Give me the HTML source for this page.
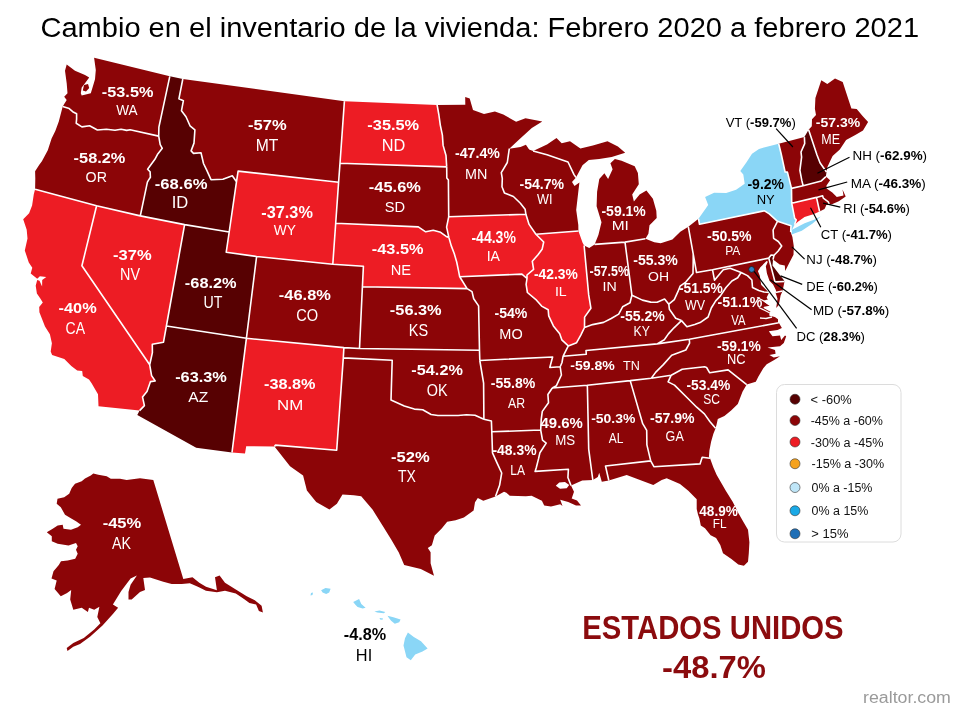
<!DOCTYPE html>
<html><head><meta charset="utf-8"><style>
html,body{margin:0;padding:0;background:#fff;}
body{width:960px;height:720px;overflow:hidden;position:relative;font-family:"Liberation Sans",sans-serif;}
svg{position:absolute;left:0;top:0;will-change:transform;}
svg text{font-family:"Liberation Sans",sans-serif;}
</style></head><body>
<svg width="960" height="720" viewBox="0 0 960 720">
<path fill="#8c0507" d="M169.8,76.3 L94.1,57.7 L95.8,70.0 L95.0,79.2 L93.3,85.0 L90.8,93.3 L81.7,95.5 L80.8,93.3 L81.7,87.5 L85.0,83.3 L89.2,77.5 L85.0,75.0 L75.0,70.8 L66.7,64.6 L65.0,70.8 L66.7,83.3 L67.5,93.3 L64.2,96.7 L66.7,100.0 L64.2,104.0 L62.7,106.5 L69.2,108.6 L72.7,111.7 L76.6,113.8 L76.6,119.1 L76.2,123.3 L81.9,126.9 L89.6,125.8 L97.4,130.0 L106.4,129.2 L115.0,130.3 L121.1,129.2 L126.7,130.4 L130.1,129.7 L158.7,136.1 L158.9,127.2Z"/>
<path fill="#8c0507" d="M62.7,106.5 L58.8,121.5 L55.3,131.1 L51.6,138.5 L47.8,150.2 L41.9,161.3 L39.3,164.8 L35.1,171.3 L35.3,178.6 L35.1,189.3 L96.6,205.8 L140.3,215.9 L147.4,182.2 L148.7,179.9 L150.4,177.2 L150.1,171.8 L147.6,169.2 L154.9,159.3 L157.4,154.6 L162.3,148.3 L160.2,144.7 L158.7,136.1 L130.1,129.7 L126.7,130.4 L121.1,129.2 L115.0,130.3 L106.4,129.2 L97.4,130.0 L89.6,125.8 L81.9,126.9 L76.2,123.3 L76.6,119.1 L76.6,113.8 L72.7,111.7 L69.2,108.6Z"/>
<path fill="#ed1c24" d="M98.5,406.2 L139.6,410.6 L144.4,405.6 L142.5,396.9 L147.0,391.4 L150.5,381.6 L155.2,381.0 L151.6,375.6 L149.7,364.8 L81.9,265.8 L96.6,205.8 L35.1,189.3 L33.8,194.2 L32.1,205.5 L29.1,213.2 L23.2,219.2 L26.7,229.7 L27.5,238.5 L24.8,250.5 L28.8,262.4 L32.3,267.7 L30.7,273.6 L37.2,278.7 L39.9,276.2 L46.3,276.9 L42.2,280.0 L42.1,286.4 L39.5,280.8 L37.2,280.1 L35.7,285.7 L36.9,293.5 L40.5,298.8 L42.8,302.6 L39.2,306.9 L39.4,312.3 L45.0,326.6 L49.9,334.2 L51.9,343.2 L50.7,351.4 L52.1,354.9 L64.3,359.0 L71.3,366.0 L77.2,370.5 L82.2,371.1 L82.8,376.1 L89.0,379.6 L91.6,383.3 L98.0,394.2Z"/>
<path fill="#ed1c24" d="M140.3,215.9 L96.6,205.8 L81.9,265.8 L149.7,364.8 L152.4,352.7 L152.3,344.3 L163.5,342.2 L166.4,326.0 L184.6,224.6Z"/>
<path fill="#570102" d="M182.8,79.0 L169.8,76.3 L158.9,127.2 L158.7,136.1 L160.2,144.7 L162.3,148.3 L157.4,154.6 L154.9,159.3 L147.6,169.2 L150.1,171.8 L150.4,177.2 L148.7,179.9 L147.4,182.2 L140.3,215.9 L184.6,224.6 L229.2,232.0 L236.5,181.7 L232.3,175.8 L222.9,179.2 L211.0,179.7 L206.7,170.2 L203.5,163.5 L201.0,152.7 L193.5,153.4 L191.1,150.9 L194.0,143.1 L194.9,129.8 L190.0,125.8 L186.0,116.7 L181.5,110.7 L183.4,100.7 L178.9,98.8Z"/>
<path fill="#8c0507" d="M344.4,101.3 L182.8,79.0 L178.9,98.8 L183.4,100.7 L181.5,110.7 L186.0,116.7 L190.0,125.8 L194.9,129.8 L194.0,143.1 L191.1,150.9 L193.5,153.4 L201.0,152.7 L203.5,163.5 L206.7,170.2 L211.0,179.7 L222.9,179.2 L232.3,175.8 L236.5,181.7 L238.1,171.1 L338.6,182.3 L340.0,163.2Z"/>
<path fill="#ed1c24" d="M236.5,181.7 L229.2,232.0 L226.2,252.3 L256.6,256.5 L332.8,264.2 L335.7,223.2 L338.6,182.3 L238.1,171.1Z"/>
<path fill="#570102" d="M184.6,224.6 L166.4,326.0 L246.4,338.3 L256.6,256.5 L226.2,252.3 L229.2,232.0Z"/>
<path fill="#570102" d="M139.6,410.6 L137.3,414.9 L196.2,447.8 L232.0,452.5 L246.4,338.3 L166.4,326.0 L163.5,342.2 L152.3,344.3 L152.4,352.7 L149.7,364.8 L151.6,375.6 L155.2,381.0 L150.5,381.6 L147.0,391.4 L142.5,396.9 L144.4,405.6Z"/>
<path fill="#ed1c24" d="M232.0,452.5 L245.0,453.5 L246.2,446.2 L274.5,446.5 L275.4,445.1 L336.7,450.2 L343.3,357.9 L343.9,347.6 L246.4,338.3Z"/>
<path fill="#8c0507" d="M332.8,264.2 L256.6,256.5 L246.4,338.3 L343.9,347.6 L359.5,348.5 L362.4,286.7 L363.4,266.2Z"/>
<path fill="#ed1c24" d="M437.1,104.9 L344.4,101.3 L340.0,163.2 L446.7,166.9 L446.0,155.5 L443.1,145.4 L442.4,135.2 L440.3,125.1 L438.9,115.0Z"/>
<path fill="#8c0507" d="M340.0,163.2 L338.6,182.3 L335.7,223.2 L418.3,226.9 L425.7,231.8 L433.2,230.2 L440.6,232.3 L446.2,236.4 L448.9,237.6 L446.6,227.1 L448.7,216.8 L448.4,180.0 L446.8,178.0 L446.7,166.9Z"/>
<path fill="#ed1c24" d="M335.7,223.2 L332.8,264.2 L363.4,266.2 L362.4,286.7 L467.1,288.6 L459.7,276.8 L458.4,270.2 L456.7,262.0 L454.3,253.8 L451.2,245.6 L448.9,237.6 L446.2,236.4 L440.6,232.3 L433.2,230.2 L425.7,231.8 L418.3,226.9Z"/>
<path fill="#8c0507" d="M362.4,286.7 L359.5,348.5 L479.5,350.2 L478.6,305.9 L473.7,298.8 L472.0,291.6 L467.1,288.6Z"/>
<path fill="#8c0507" d="M359.5,348.5 L343.9,347.6 L343.3,357.9 L392.2,360.2 L391.0,400.1 L399.3,403.7 L404.3,405.9 L414.3,409.1 L422.7,409.7 L431.1,414.5 L437.9,415.5 L448.0,415.5 L458.1,415.5 L466.5,414.7 L475.0,415.2 L483.9,419.3 L483.6,383.1 L479.8,360.5 L479.5,350.2Z"/>
<path fill="#8c0507" d="M434.0,575.8 L430.6,563.3 L430.6,552.2 L427.8,548.1 L431.9,545.3 L434.7,535.6 L441.7,528.6 L447.2,521.7 L455.6,520.3 L463.9,517.5 L473.6,510.6 L475.0,502.2 L477.8,498.1 L483.3,500.8 L495.5,496.5 L499.6,485.3 L501.7,473.0 L497.0,462.9 L492.5,452.8 L491.8,431.8 L491.4,421.0 L483.9,419.3 L475.0,415.2 L466.5,414.7 L458.1,415.5 L448.0,415.5 L437.9,415.5 L431.1,414.5 L422.7,409.7 L414.3,409.1 L404.3,405.9 L399.3,403.7 L391.0,400.1 L392.2,360.2 L343.3,357.9 L336.7,450.2 L275.4,445.1 L274.5,446.5 L290.0,466.2 L303.1,475.6 L306.9,490.6 L316.2,501.9 L329.4,509.4 L336.9,503.8 L342.5,494.4 L353.8,495.3 L361.2,496.2 L372.5,509.4 L381.9,524.4 L391.2,539.4 L398.8,552.5 L404.2,565.0 L420.8,568.9Z"/>
<path fill="#8c0507" d="M509.3,148.7 L518.6,140.1 L531.8,128.0 L542.3,121.4 L525.5,118.3 L516.1,121.7 L503.3,114.5 L494.9,111.4 L484.0,113.9 L473.0,110.1 L469.7,98.5 L465.2,97.0 L465.3,104.7 L437.1,104.9 L438.9,115.0 L440.3,125.1 L442.4,135.2 L443.1,145.4 L446.0,155.5 L446.7,166.9 L446.8,178.0 L448.4,180.0 L448.7,216.8 L525.9,214.3 L525.1,209.2 L520.4,203.3 L513.4,196.5 L504.4,192.9 L502.0,186.8 L502.3,178.6 L501.3,172.6 L507.3,162.5Z"/>
<path fill="#ed1c24" d="M448.9,237.6 L451.2,245.6 L454.3,253.8 L456.7,262.0 L458.4,270.2 L459.7,276.8 L521.9,274.1 L527.0,278.5 L527.0,275.0 L533.6,269.4 L532.3,261.3 L538.0,254.7 L542.1,249.3 L543.7,242.0 L535.9,234.2 L529.1,224.4 L525.9,214.3 L448.7,216.8 L446.6,227.1Z"/>
<path fill="#8c0507" d="M479.5,350.2 L479.8,360.5 L552.6,357.0 L549.8,367.5 L560.2,366.8 L562.0,362.5 L563.1,356.2 L568.3,345.9 L561.8,339.8 L559.7,333.7 L553.4,325.9 L548.7,315.9 L548.2,309.8 L541.6,306.1 L536.5,300.2 L527.4,292.5 L526.1,284.3 L527.0,278.5 L521.9,274.1 L459.7,276.8 L467.1,288.6 L472.0,291.6 L473.7,298.8 L478.6,305.9Z"/>
<path fill="#8c0507" d="M483.9,419.3 L491.4,421.0 L491.8,431.8 L540.7,430.0 L541.2,419.7 L542.3,411.4 L548.5,402.7 L547.9,394.5 L552.3,388.0 L556.4,385.7 L561.4,375.0 L560.2,366.8 L549.8,367.5 L552.6,357.0 L479.8,360.5 L483.6,383.1Z"/>
<path fill="#8c0507" d="M495.5,496.5 L504.0,491.7 L506.4,492.8 L509.8,495.7 L525.8,496.3 L531.6,495.7 L541.9,500.8 L544.2,505.4 L551.0,506.6 L560.2,504.3 L562.5,506.0 L560.2,499.7 L568.2,502.0 L576.0,505.5 L581.0,505.5 L577.0,500.5 L571.7,498.5 L574.0,491.7 L571.0,485.5 L567.9,477.5 L568.4,469.2 L535.1,471.4 L536.4,467.3 L538.5,458.9 L539.9,452.7 L546.2,443.1 L542.5,440.2 L540.7,430.0 L491.8,431.8 L492.5,452.8 L497.0,462.9 L501.7,473.0 L499.6,485.3Z"/>
<path fill="#8c0507" d="M533.1,151.0 L529.1,149.6 L525.9,144.7 L520.5,147.1 L509.3,148.7 L507.3,162.5 L501.3,172.6 L502.3,178.6 L502.0,186.8 L504.4,192.9 L513.4,196.5 L520.4,203.3 L525.1,209.2 L525.9,214.3 L529.1,224.4 L535.9,234.2 L578.4,231.0 L578.3,225.0 L576.2,210.0 L578.5,190.0 L579.4,182.5 L574.5,186.0 L572.0,182.0 L576.0,177.5 L574.0,174.6 L568.0,162.0 L547.0,154.8Z"/>
<path fill="#ed1c24" d="M584.1,245.5 L582.6,242.8 L578.4,231.0 L535.9,234.2 L543.7,242.0 L542.1,249.3 L538.0,254.7 L532.3,261.3 L533.6,269.4 L527.0,275.0 L527.0,278.5 L526.1,284.3 L527.4,292.5 L536.5,300.2 L541.6,306.1 L548.2,309.8 L548.7,315.9 L553.4,325.9 L559.7,333.7 L561.8,339.8 L568.3,345.9 L576.6,342.7 L580.8,335.1 L584.5,327.5 L584.6,317.1 L590.9,308.2 L588.7,294.9Z"/>
<path fill="#8c0507" d="M645.4,238.7 L648.4,233.7 L649.5,225.2 L656.7,217.9 L656.3,210.7 L652.9,198.8 L646.4,190.4 L639.6,194.5 L633.9,201.5 L632.2,194.5 L638.8,184.3 L637.9,173.0 L634.7,166.2 L621.6,160.8 L614.9,159.0 L610.4,163.3 L612.6,169.2 L608.1,179.1 L604.4,173.3 L599.3,179.1 L597.1,191.7 L596.6,206.2 L601.5,222.2 L598.4,234.9 L594.6,244.4 L625.0,242.1Z M576.0,177.5 L582.5,165.2 L588.8,160.0 L599.2,159.0 L611.7,156.9 L625.2,152.7 L617.9,146.5 L607.5,141.2 L592.9,145.4 L580.4,148.5 L570.0,141.2 L561.7,143.3 L556.5,138.0 L547.0,144.4 L533.1,151.0 L547.0,154.8 L568.0,162.0 L574.0,174.6Z"/>
<path fill="#8c0507" d="M594.6,244.4 L589.2,247.9 L584.1,245.5 L588.7,294.9 L590.9,308.2 L584.6,317.1 L584.5,327.5 L592.6,324.6 L603.6,322.4 L611.2,318.5 L618.7,314.1 L622.6,306.8 L630.0,302.7 L631.9,295.2 L625.0,242.1Z"/>
<path fill="#8c0507" d="M688.3,226.7 L680.3,231.8 L672.4,239.4 L660.7,243.3 L654.3,242.2 L645.4,238.7 L625.0,242.1 L631.9,295.2 L642.4,300.1 L650.7,302.1 L657.1,302.2 L664.6,299.0 L668.8,304.2 L674.3,299.6 L677.9,291.7 L680.1,286.2 L685.8,282.1 L693.0,273.5 L693.2,261.0 L693.2,253.9Z"/>
<path fill="#8c0507" d="M568.3,345.9 L563.1,356.2 L586.3,354.2 L586.0,350.5 L657.1,343.9 L664.3,339.7 L668.4,333.9 L674.0,327.8 L681.5,320.6 L675.7,318.2 L669.4,309.3 L668.8,304.2 L664.6,299.0 L657.1,302.2 L650.7,302.1 L642.4,300.1 L631.9,295.2 L630.0,302.7 L622.6,306.8 L618.7,314.1 L611.2,318.5 L603.6,322.4 L592.6,324.6 L584.5,327.5 L580.8,335.1 L576.6,342.7Z"/>
<path fill="#8c0507" d="M563.1,356.2 L562.0,362.5 L560.2,366.8 L561.4,375.0 L556.4,385.7 L552.3,388.0 L587.2,385.2 L630.2,380.6 L651.3,378.2 L655.8,372.1 L663.1,364.9 L671.7,355.3 L685.8,350.0 L689.6,343.1 L689.3,339.2 L657.1,343.9 L586.0,350.5 L586.3,354.2Z"/>
<path fill="#8c0507" d="M571.0,485.5 L582.2,480.5 L592.8,480.0 L588.7,449.1 L587.4,387.2 L587.2,385.2 L552.3,388.0 L547.9,394.5 L548.5,402.7 L542.3,411.4 L541.2,419.7 L540.7,430.0 L542.5,440.2 L546.2,443.1 L539.9,452.7 L538.5,458.9 L536.4,467.3 L535.1,471.4 L568.4,469.2 L567.9,477.5Z"/>
<path fill="#8c0507" d="M592.8,480.0 L597.8,477.0 L599.2,472.8 L601.8,481.8 L608.8,480.5 L605.5,466.0 L650.7,460.9 L646.9,444.9 L646.7,430.4 L642.7,423.7 L630.2,380.6 L587.2,385.2 L587.4,387.2 L588.7,449.1Z"/>
<path fill="#8c0507" d="M710.0,458.3 L708.9,457.2 L709.4,450.6 L711.1,441.7 L713.3,433.9 L715.6,428.3 L710.0,421.7 L704.4,413.9 L696.7,407.2 L686.7,397.2 L674.5,385.1 L668.1,381.9 L671.2,375.2 L651.3,378.2 L630.2,380.6 L642.7,423.7 L646.7,430.4 L646.9,444.9 L650.7,460.9 L653.9,466.7 L700.0,463.9 L702.2,457.2Z"/>
<path fill="#8c0507" d="M608.8,480.5 L626.7,475.0 L640.0,480.0 L653.3,485.0 L661.7,480.0 L666.7,478.3 L680.0,483.9 L688.3,490.8 L696.7,499.2 L696.7,508.9 L698.0,514.4 L699.4,518.6 L700.8,525.6 L705.0,528.3 L710.6,535.3 L716.1,538.0 L720.3,545.0 L723.0,553.3 L731.4,558.9 L738.3,564.4 L743.9,565.8 L748.0,561.7 L748.8,553.3 L749.4,542.2 L748.0,529.7 L743.9,522.8 L738.3,513.0 L732.8,501.9 L725.8,490.8 L716.7,475.0 L713.3,467.2 L710.0,458.3 L702.2,457.2 L700.0,463.9 L653.9,466.7 L650.7,460.9 L605.5,466.0Z"/>
<path fill="#8c0507" d="M715.6,428.3 L716.7,423.9 L717.8,418.9 L724.4,416.1 L731.1,410.6 L737.8,403.9 L740.0,398.3 L742.5,391.7 L746.7,384.6 L728.1,369.9 L709.7,372.8 L706.6,367.5 L704.6,366.8 L682.2,369.3 L671.2,375.2 L668.1,381.9 L674.5,385.1 L686.7,397.2 L696.7,407.2 L704.4,413.9 L710.0,421.7Z"/>
<path fill="#8c0507" d="M746.7,384.6 L755.8,381.7 L758.3,376.7 L763.3,368.3 L766.7,364.2 L774.2,360.0 L780.0,356.2 L773.8,357.5 L769.4,355.0 L775.6,353.8 L775.0,350.0 L767.5,347.5 L780.0,346.2 L783.8,343.1 L786.2,336.2 L785.0,335.6 L781.2,340.0 L780.0,335.6 L772.5,336.2 L768.8,331.2 L777.5,330.0 L781.9,328.1 L778.8,322.8 L689.3,339.2 L689.6,343.1 L685.8,350.0 L671.7,355.3 L663.1,364.9 L655.8,372.1 L651.3,378.2 L671.2,375.2 L682.2,369.3 L704.6,366.8 L706.6,367.5 L709.7,372.8 L728.1,369.9Z"/>
<path fill="#8c0507" d="M770.0,292.5 L764.0,292.0 L758.8,290.5 L752.5,287.5 L751.9,280.0 L747.5,275.6 L741.1,272.5 L737.7,277.8 L731.9,281.0 L726.0,287.5 L720.4,295.9 L715.7,300.9 L711.3,308.0 L708.1,317.0 L700.1,322.6 L694.7,324.5 L686.9,326.8 L681.5,320.6 L674.0,327.8 L668.4,333.9 L664.3,339.7 L657.1,343.9 L689.3,339.2 L778.8,322.8 L778.8,318.8 L775.0,316.2 L770.0,315.0 L771.2,311.2 L764.4,307.5 L771.2,306.2 L764.4,301.2 L768.8,300.0 L767.5,297.5Z M775.5,292.5 L777.5,298.8 L776.2,308.1 L778.8,305.0 L780.6,295.6 L782.5,291.0Z"/>
<path fill="#8c0507" d="M668.8,304.2 L669.4,309.3 L675.7,318.2 L681.5,320.6 L686.9,326.8 L694.7,324.5 L700.1,322.6 L708.1,317.0 L711.3,308.0 L715.7,300.9 L720.4,295.9 L726.0,287.5 L731.9,281.0 L737.7,277.8 L741.1,272.5 L730.1,268.2 L723.3,269.7 L720.7,272.7 L714.5,280.2 L712.5,269.7 L696.5,272.5 L693.2,253.9 L693.2,261.0 L693.0,273.5 L685.8,282.1 L680.1,286.2 L677.9,291.7 L674.3,299.6Z"/>
<path fill="#8c0507" d="M698.5,218.8 L688.3,226.7 L693.2,253.9 L696.5,272.5 L712.5,269.7 L768.8,258.1 L771.1,255.0 L774.0,255.2 L778.2,251.0 L781.7,246.0 L778.3,241.5 L773.6,238.3 L773.1,230.0 L777.5,221.3 L769.3,213.9 L764.5,210.8 L699.5,224.3Z"/>
<path fill="#8ad6f6" d="M778.7,143.8 L759.0,148.9 L752.0,153.7 L746.5,162.3 L740.3,171.0 L743.3,174.5 L744.7,183.7 L736.1,189.8 L726.2,192.9 L714.1,192.8 L705.1,197.1 L708.2,204.9 L698.5,218.8 L699.5,224.3 L764.5,210.8 L769.3,213.9 L777.5,221.3 L791.0,225.7 L790.7,232.1 L792.0,229.7 L794.6,224.8 L796.2,219.9 L794.7,218.4 L791.7,203.2 L791.5,188.4 L787.4,172.1 L785.1,172.0 L781.2,154.0Z"/>
<path fill="#8c0507" d="M868.1,122.0 L862.8,116.2 L856.7,108.9 L851.4,108.5 L842.7,81.9 L835.0,78.4 L827.3,83.9 L821.3,80.2 L815.4,98.1 L814.9,108.8 L816.0,114.9 L812.0,119.2 L811.8,126.3 L808.6,129.7 L817.0,155.0 L820.0,162.7 L826.5,172.0 L827.4,167.0 L830.2,160.9 L832.6,155.9 L839.8,149.5 L846.1,140.1 L855.3,135.1 L863.0,130.6Z"/>
<path fill="#8c0507" d="M804.4,137.1 L778.7,143.8 L781.2,154.0 L785.1,172.0 L787.4,172.1 L791.5,188.4 L803.1,185.8 L801.8,180.4 L799.9,170.3 L801.6,157.1 L801.0,152.0 L804.7,143.6Z"/>
<path fill="#570102" d="M808.6,129.7 L804.4,137.1 L804.7,143.6 L801.0,152.0 L801.6,157.1 L799.9,170.3 L801.8,180.4 L803.1,185.8 L821.3,180.9 L825.9,176.6 L826.5,172.0 L820.0,162.7 L817.0,155.0Z"/>
<path fill="#8c0507" d="M829.3,205.0 L832.5,204.1 L838.8,201.2 L845.7,196.4 L842.5,189.4 L843.5,195.6 L836.8,196.9 L832.3,192.4 L826.6,188.6 L826.5,185.5 L830.1,180.2 L825.9,176.6 L821.3,180.9 L803.1,185.8 L791.5,188.4 L791.7,203.2 L816.5,197.4 L822.6,195.7 L823.3,198.1 L828.3,201.8Z"/>
<path fill="#ed1c24" d="M794.6,224.8 L797.9,221.8 L804.5,216.9 L813.3,214.2 L819.6,211.5 L816.5,197.4 L791.7,203.2 L794.7,218.4 L796.2,219.9Z"/>
<path fill="#8c0507" d="M819.6,211.5 L824.5,209.1 L825.5,207.1 L826.4,204.7 L829.3,205.0 L828.3,201.8 L823.3,198.1 L822.6,195.7 L816.5,197.4Z"/>
<path fill="#8c0507" d="M773.0,259.6 L779.7,264.4 L784.8,265.4 L785.2,271.0 L789.1,263.3 L793.5,254.8 L793.8,246.2 L792.4,237.0 L790.7,232.1 L791.0,225.7 L777.5,221.3 L773.1,230.0 L773.6,238.3 L778.3,241.5 L781.7,246.0 L778.2,251.0 L774.0,255.2Z"/>
<path fill="#570102" d="M784.5,281.5 L783.8,280.0 L778.8,273.8 L772.5,265.6 L773.0,259.6 L774.0,255.2 L771.1,255.0 L768.8,258.1 L775.0,281.9Z"/>
<path fill="#8c0507" d="M782.5,291.0 L783.8,285.0 L784.5,281.5 L775.0,281.9 L768.8,258.1 L712.5,269.7 L714.5,280.2 L720.7,272.7 L723.3,269.7 L730.1,268.2 L741.1,272.5 L747.5,275.6 L751.9,280.0 L752.5,287.5 L758.8,290.5 L764.0,292.0 L770.0,292.5 L766.2,288.8 L761.9,284.4 L760.6,275.6 L758.8,271.2 L761.2,267.5 L766.9,261.9 L765.0,266.2 L766.2,273.8 L768.8,281.2 L772.5,285.0 L775.0,290.0 L775.5,292.5Z"/>
<path fill="#8ad6f6" d="M791.6,234.4 L792.0,229.7 L804.6,223.3 L814.7,219.6 L820.8,216.5 L812.6,223.4 L801.8,230.8Z"/>
<path fill="#fff" d="M555.8,485.8 L559.2,482.5 L565.0,482.1 L569.2,485.0 L566.7,488.3 L560.0,488.8Z"/>
<path fill="#8c0507" d="M56.7,503.8 L57.5,498.8 L64.2,497.2 L69.2,493.8 L71.7,488.0 L75.0,483.8 L81.7,481.3 L85.0,478.4 L90.8,475.5 L93.3,473.4 L98.3,474.7 L106.7,476.3 L110.8,478.8 L120.0,478.8 L126.7,480.0 L140.0,478.3 L153.3,480.0 L183.3,579.0 L192.5,577.3 L199.3,582.7 L206.0,586.8 L216.9,590.3 L215.0,577.3 L219.6,575.4 L225.0,582.7 L235.8,589.5 L246.7,596.3 L254.8,600.3 L261.6,605.7 L262.9,612.5 L258.9,611.1 L256.1,604.4 L249.4,603.0 L244.0,599.0 L235.8,593.5 L225.0,590.8 L216.9,592.2 L206.0,590.8 L197.9,586.8 L189.8,583.2 L181.7,584.0 L171.7,584.0 L163.3,581.7 L150.0,577.5 L143.3,578.0 L145.0,590.0 L140.0,592.0 L131.7,599.4 L128.5,599.4 L128.5,592.0 L130.6,584.8 L136.9,575.4 L130.6,578.5 L121.2,591.0 L112.9,604.6 L118.1,607.7 L112.9,614.0 L102.5,625.4 L90.0,636.7 L80.0,644.0 L73.3,646.7 L67.5,651.0 L66.7,648.0 L73.3,643.0 L83.8,637.9 L94.2,629.6 L100.4,623.3 L97.3,617.1 L99.4,606.7 L94.2,609.8 L89.0,607.7 L87.9,611.9 L81.7,607.7 L73.3,609.8 L70.2,599.4 L71.2,590.0 L67.1,593.1 L60.8,596.2 L54.6,589.0 L56.7,580.6 L51.5,578.5 L53.5,571.2 L58.8,565.0 L61.0,561.3 L67.7,560.5 L75.2,558.8 L77.7,553.8 L76.0,549.7 L77.7,546.3 L76.0,543.0 L68.5,545.5 L57.7,543.8 L51.8,541.3 L51.8,536.3 L46.8,532.2 L52.7,528.8 L57.7,525.5 L62.7,524.7 L63.5,528.8 L71.0,529.7 L77.7,527.2 L81.0,524.7 L76.0,521.3 L71.7,518.8 L65.0,514.7 L60.8,507.2Z"/>
<path fill="#8c0507" d="M84,85 L88,84 L89.2,88 L86,91.5 L82.8,90.5Z"/>
<path fill="#8ad6f6" d="M311.0,593.0 L313.0,592.5 L312.5,595.0 L310.5,595.5Z M321.1,590.2 L325.5,588.0 L330.6,588.7 L329.2,592.4 L326.2,593.9 L322.6,592.4Z M353.2,601.9 L359.1,599.0 L361.3,604.1 L365.6,607.7 L362.7,608.4 L357.6,607.0 L355.4,604.8Z M374.4,611.4 L379.5,610.6 L385.3,612.1 L383.9,613.3 L377.3,612.4Z M379.5,617.9 L383.1,618.6 L382.4,619.7 L380.2,619.4Z M387.5,615.7 L393.3,617.2 L400.6,619.4 L399.2,622.3 L394.8,623.8 L391.1,620.8 L389.0,617.9Z M407.9,632.5 L413.8,636.9 L421.0,641.3 L427.6,648.5 L422.5,651.5 L415.2,654.4 L410.8,660.2 L406.5,657.3 L403.5,645.6 L405.0,638.3Z"/>
<path fill="none" stroke="#fff" stroke-width="1.6" stroke-linejoin="round" d="M775.5,292.5 L775.0,290.0 L772.5,285.0 L768.8,281.2 L766.2,273.8 L765.0,266.2 L766.9,261.9 L761.2,267.5 L758.8,271.2 L760.6,275.6 L761.9,284.4 L766.2,288.8 L770.0,292.5 M770.0,292.5 L764.0,292.0 L758.8,290.5 L752.5,287.5 L751.9,280.0 L747.5,275.6 L741.1,272.5 M770.0,292.5 L767.5,297.5 L768.8,300.0 L764.4,301.2 L771.2,306.2 L764.4,307.5 L771.2,311.2 L770.0,315.0 L775.0,316.2 L778.8,318.8 L778.8,322.8 M62.7,106.5 L69.2,108.6 L72.7,111.7 L76.6,113.8 L76.6,119.1 L76.2,123.3 L81.9,126.9 L89.6,125.8 L97.4,130.0 L106.4,129.2 L115.0,130.3 L121.1,129.2 L126.7,130.4 L130.1,129.7 L158.7,136.1 M169.8,76.3 L158.9,127.2 L158.7,136.1 M158.7,136.1 L160.2,144.7 L162.3,148.3 L157.4,154.6 L154.9,159.3 L147.6,169.2 L150.1,171.8 L150.4,177.2 L148.7,179.9 L147.4,182.2 L140.3,215.9 M35.1,189.3 L96.6,205.8 M96.6,205.8 L140.3,215.9 M96.6,205.8 L81.9,265.8 L149.7,364.8 M139.6,410.6 L144.4,405.6 L142.5,396.9 L147.0,391.4 L150.5,381.6 L155.2,381.0 L151.6,375.6 L149.7,364.8 M149.7,364.8 L152.4,352.7 L152.3,344.3 L163.5,342.2 L166.4,326.0 M140.3,215.9 L184.6,224.6 M166.4,326.0 L184.6,224.6 M184.6,224.6 L229.2,232.0 M229.2,232.0 L236.5,181.7 M236.5,181.7 L232.3,175.8 L222.9,179.2 L211.0,179.7 L206.7,170.2 L203.5,163.5 L201.0,152.7 L193.5,153.4 L191.1,150.9 L194.0,143.1 L194.9,129.8 L190.0,125.8 L186.0,116.7 L181.5,110.7 L183.4,100.7 L178.9,98.8 L182.8,79.0 M236.5,181.7 L238.1,171.1 L338.6,182.3 M344.4,101.3 L340.0,163.2 M340.0,163.2 L338.6,182.3 M338.6,182.3 L335.7,223.2 M335.7,223.2 L332.8,264.2 M332.8,264.2 L256.6,256.5 M256.6,256.5 L226.2,252.3 L229.2,232.0 M256.6,256.5 L246.4,338.3 M166.4,326.0 L246.4,338.3 M246.4,338.3 L232.0,452.5 M246.4,338.3 L343.9,347.6 M343.9,347.6 L359.5,348.5 M359.5,348.5 L362.4,286.7 M362.4,286.7 L363.4,266.2 L332.8,264.2 M343.9,347.6 L343.3,357.9 M274.5,446.5 L275.4,445.1 L336.7,450.2 L343.3,357.9 M343.3,357.9 L392.2,360.2 L391.0,400.1 L399.3,403.7 L404.3,405.9 L414.3,409.1 L422.7,409.7 L431.1,414.5 L437.9,415.5 L448.0,415.5 L458.1,415.5 L466.5,414.7 L475.0,415.2 L483.9,419.3 M483.9,419.3 L491.4,421.0 L491.8,431.8 M491.8,431.8 L492.5,452.8 L497.0,462.9 L501.7,473.0 L499.6,485.3 L495.5,496.5 M359.5,348.5 L479.5,350.2 M479.5,350.2 L479.8,360.5 M479.8,360.5 L483.6,383.1 L483.9,419.3 M362.4,286.7 L467.1,288.6 M467.1,288.6 L472.0,291.6 L473.7,298.8 L478.6,305.9 L479.5,350.2 M335.7,223.2 L418.3,226.9 L425.7,231.8 L433.2,230.2 L440.6,232.3 L446.2,236.4 L448.9,237.6 M448.9,237.6 L451.2,245.6 L454.3,253.8 L456.7,262.0 L458.4,270.2 L459.7,276.8 M459.7,276.8 L467.1,288.6 M340.0,163.2 L446.7,166.9 M446.7,166.9 L446.8,178.0 L448.4,180.0 L448.7,216.8 M448.7,216.8 L446.6,227.1 L448.9,237.6 M437.1,104.9 L438.9,115.0 L440.3,125.1 L442.4,135.2 L443.1,145.4 L446.0,155.5 L446.7,166.9 M509.3,148.7 L507.3,162.5 L501.3,172.6 L502.3,178.6 L502.0,186.8 L504.4,192.9 L513.4,196.5 L520.4,203.3 L525.1,209.2 L525.9,214.3 M448.7,216.8 L525.9,214.3 M525.9,214.3 L529.1,224.4 L535.9,234.2 M535.9,234.2 L543.7,242.0 L542.1,249.3 L538.0,254.7 L532.3,261.3 L533.6,269.4 L527.0,275.0 L527.0,278.5 M459.7,276.8 L521.9,274.1 L527.0,278.5 M527.0,278.5 L526.1,284.3 L527.4,292.5 L536.5,300.2 L541.6,306.1 L548.2,309.8 L548.7,315.9 L553.4,325.9 L559.7,333.7 L561.8,339.8 L568.3,345.9 M568.3,345.9 L563.1,356.2 M563.1,356.2 L562.0,362.5 L560.2,366.8 M560.2,366.8 L549.8,367.5 L552.6,357.0 L479.8,360.5 M560.2,366.8 L561.4,375.0 L556.4,385.7 L552.3,388.0 M552.3,388.0 L547.9,394.5 L548.5,402.7 L542.3,411.4 L541.2,419.7 L540.7,430.0 M491.8,431.8 L540.7,430.0 M540.7,430.0 L542.5,440.2 L546.2,443.1 L539.9,452.7 L538.5,458.9 L536.4,467.3 L535.1,471.4 L568.4,469.2 L567.9,477.5 L571.0,485.5 M592.8,480.0 L588.7,449.1 L587.4,387.2 L587.2,385.2 M552.3,388.0 L587.2,385.2 M587.2,385.2 L630.2,380.6 M630.2,380.6 L642.7,423.7 L646.7,430.4 L646.9,444.9 L650.7,460.9 M650.7,460.9 L605.5,466.0 L608.8,480.5 M650.7,460.9 L653.9,466.7 L700.0,463.9 L702.2,457.2 L710.0,458.3 M715.6,428.3 L710.0,421.7 L704.4,413.9 L696.7,407.2 L686.7,397.2 L674.5,385.1 L668.1,381.9 L671.2,375.2 M671.2,375.2 L651.3,378.2 M651.3,378.2 L630.2,380.6 M671.2,375.2 L682.2,369.3 L704.6,366.8 L706.6,367.5 L709.7,372.8 L728.1,369.9 L746.7,384.6 M651.3,378.2 L655.8,372.1 L663.1,364.9 L671.7,355.3 L685.8,350.0 L689.6,343.1 L689.3,339.2 M689.3,339.2 L778.8,322.8 M689.3,339.2 L657.1,343.9 M657.1,343.9 L586.0,350.5 L586.3,354.2 L563.1,356.2 M657.1,343.9 L664.3,339.7 L668.4,333.9 L674.0,327.8 L681.5,320.6 M681.5,320.6 L675.7,318.2 L669.4,309.3 L668.8,304.2 M668.8,304.2 L664.6,299.0 L657.1,302.2 L650.7,302.1 L642.4,300.1 L631.9,295.2 M631.9,295.2 L630.0,302.7 L622.6,306.8 L618.7,314.1 L611.2,318.5 L603.6,322.4 L592.6,324.6 L584.5,327.5 M584.5,327.5 L580.8,335.1 L576.6,342.7 L568.3,345.9 M584.5,327.5 L584.6,317.1 L590.9,308.2 L588.7,294.9 L584.1,245.5 M578.4,231.0 L535.9,234.2 M576.0,177.5 L574.0,174.6 L568.0,162.0 L547.0,154.8 L533.1,151.0 M645.4,238.7 L625.0,242.1 M625.0,242.1 L594.6,244.4 M625.0,242.1 L631.9,295.2 M688.3,226.7 L693.2,253.9 M693.2,253.9 L693.2,261.0 L693.0,273.5 L685.8,282.1 L680.1,286.2 L677.9,291.7 L674.3,299.6 L668.8,304.2 M693.2,253.9 L696.5,272.5 L712.5,269.7 M712.5,269.7 L768.8,258.1 M768.8,258.1 L771.1,255.0 L774.0,255.2 M774.0,255.2 L778.2,251.0 L781.7,246.0 L778.3,241.5 L773.6,238.3 L773.1,230.0 L777.5,221.3 M777.5,221.3 L769.3,213.9 L764.5,210.8 L699.5,224.3 L698.5,218.8 M777.5,221.3 L791.0,225.7 L790.7,232.1 M774.0,255.2 L773.0,259.6 M784.5,281.5 L775.0,281.9 L768.8,258.1 M782.5,291.0 L775.5,292.5 M741.1,272.5 L730.1,268.2 L723.3,269.7 L720.7,272.7 L714.5,280.2 L712.5,269.7 M741.1,272.5 L737.7,277.8 L731.9,281.0 L726.0,287.5 L720.4,295.9 L715.7,300.9 L711.3,308.0 L708.1,317.0 L700.1,322.6 L694.7,324.5 L686.9,326.8 L681.5,320.6 M778.7,143.8 L781.2,154.0 L785.1,172.0 L787.4,172.1 L791.5,188.4 M791.5,188.4 L791.7,203.2 M791.7,203.2 L794.7,218.4 L796.2,219.9 L794.6,224.8 M804.4,137.1 L804.7,143.6 L801.0,152.0 L801.6,157.1 L799.9,170.3 L801.8,180.4 L803.1,185.8 M791.5,188.4 L803.1,185.8 M808.6,129.7 L817.0,155.0 L820.0,162.7 L826.5,172.0 M825.9,176.6 L821.3,180.9 L803.1,185.8 M816.5,197.4 L791.7,203.2 M829.3,205.0 L828.3,201.8 L823.3,198.1 L822.6,195.7 L816.5,197.4 M816.5,197.4 L819.6,211.5"/>
<path fill="none" stroke="#fff" stroke-width="1.3" d="M757,297.5 L764,301 L770,305 M758.75,307.5 L765,310.5 L771.25,313.75 M760,318 L766,318.5 L772,317"/>
<text transform="translate(101.86,97.00) scale(1.106,1)" font-size="14.71" fill="#fff"><tspan font-weight="bold">-53.5%</tspan></text>
<text transform="translate(116.19,115.00) scale(0.904,1)" font-size="15.00" fill="#fff">WA</text>
<text transform="translate(73.61,162.50) scale(1.112,1)" font-size="14.71" fill="#fff"><tspan font-weight="bold">-58.2%</tspan></text>
<text transform="translate(85.58,182.00) scale(0.926,1)" font-size="15.36" fill="#fff">OR</text>
<text transform="translate(154.85,188.75) scale(1.076,1)" font-size="15.43" fill="#fff"><tspan font-weight="bold">-68.6%</tspan></text>
<text transform="translate(171.72,207.50) scale(1.031,1)" font-size="16.07" fill="#fff">ID</text>
<text transform="translate(113.10,259.50) scale(1.123,1)" font-size="14.71" fill="#fff"><tspan font-weight="bold">-37%</tspan></text>
<text transform="translate(120.07,279.50) scale(0.840,1)" font-size="17.14" fill="#fff">NV</text>
<text transform="translate(58.61,312.50) scale(1.057,1)" font-size="15.43" fill="#fff"><tspan font-weight="bold">-40%</tspan></text>
<text transform="translate(65.54,333.75) scale(0.836,1)" font-size="16.79" fill="#fff">CA</text>
<text transform="translate(184.86,288.00) scale(1.085,1)" font-size="15.07" fill="#fff"><tspan font-weight="bold">-68.2%</tspan></text>
<text transform="translate(203.40,308.25) scale(0.828,1)" font-size="17.14" fill="#fff">UT</text>
<text transform="translate(261.36,218.00) scale(1.008,1)" font-size="16.14" fill="#fff"><tspan font-weight="bold">-37.3%</tspan></text>
<text transform="translate(273.69,235.00) scale(0.915,1)" font-size="15.00" fill="#fff">WY</text>
<text transform="translate(278.86,300.00) scale(1.065,1)" font-size="15.43" fill="#fff"><tspan font-weight="bold">-46.8%</tspan></text>
<text transform="translate(296.26,320.75) scale(0.910,1)" font-size="16.07" fill="#fff">CO</text>
<text transform="translate(263.97,389.00) scale(1.115,1)" font-size="14.57" fill="#fff"><tspan font-weight="bold">-38.8%</tspan></text>
<text transform="translate(277.11,409.80) scale(1.207,1)" font-size="14.00" fill="#fff">NM</text>
<text transform="translate(411.36,375.00) scale(1.106,1)" font-size="14.71" fill="#fff"><tspan font-weight="bold">-54.2%</tspan></text>
<text transform="translate(426.82,395.50) scale(0.918,1)" font-size="15.71" fill="#fff">OK</text>
<text transform="translate(391.10,462.00) scale(1.123,1)" font-size="14.71" fill="#fff"><tspan font-weight="bold">-52%</tspan></text>
<text transform="translate(397.94,482.00) scale(0.851,1)" font-size="16.43" fill="#fff">TX</text>
<text transform="translate(490.70,387.50) scale(0.958,1)" font-size="14.71" fill="#fff"><tspan font-weight="bold">-55.8%</tspan></text>
<text transform="translate(507.98,407.50) scale(0.820,1)" font-size="15.00" fill="#fff">AR</text>
<text transform="translate(570.20,370.00) scale(1.033,1)" font-size="13.64" fill="#fff"><tspan font-weight="bold">-59.8%</tspan></text>
<text transform="translate(622.97,370.00) scale(0.929,1)" font-size="13.57" fill="#fff">TN</text>
<text transform="translate(540.52,427.50) scale(1.041,1)" font-size="14.36" fill="#fff"><tspan font-weight="bold">49.6%</tspan></text>
<text transform="translate(555.16,444.50) scale(0.931,1)" font-size="14.29" fill="#fff">MS</text>
<text transform="translate(591.21,422.50) scale(1.022,1)" font-size="13.64" fill="#fff"><tspan font-weight="bold">-50.3%</tspan></text>
<text transform="translate(608.73,442.50) scale(0.800,1)" font-size="15.00" fill="#fff">AL</text>
<text transform="translate(649.95,422.50) scale(0.958,1)" font-size="14.71" fill="#fff"><tspan font-weight="bold">-57.9%</tspan></text>
<text transform="translate(665.62,441.25) scale(0.880,1)" font-size="14.29" fill="#fff">GA</text>
<text transform="translate(492.46,454.50) scale(0.947,1)" font-size="14.71" fill="#fff"><tspan font-weight="bold">-48.3%</tspan></text>
<text transform="translate(510.26,474.50) scale(0.845,1)" font-size="14.29" fill="#fff">LA</text>
<text transform="translate(454.95,158.00) scale(0.988,1)" font-size="14.36" fill="#fff"><tspan font-weight="bold">-47.4%</tspan></text>
<text transform="translate(465.07,178.75) scale(0.936,1)" font-size="15.36" fill="#fff">MN</text>
<text transform="translate(519.45,188.75) scale(0.982,1)" font-size="14.36" fill="#fff"><tspan font-weight="bold">-54.7%</tspan></text>
<text transform="translate(536.94,203.75) scale(0.887,1)" font-size="14.29" fill="#fff">WI</text>
<text transform="translate(471.45,242.50) scale(0.868,1)" font-size="16.14" fill="#fff"><tspan font-weight="bold">-44.3%</tspan></text>
<text transform="translate(486.70,261.25) scale(0.988,1)" font-size="14.29" fill="#fff">IA</text>
<text transform="translate(248.10,130.00) scale(1.071,1)" font-size="15.43" fill="#fff"><tspan font-weight="bold">-57%</tspan></text>
<text transform="translate(255.71,150.50) scale(0.998,1)" font-size="15.71" fill="#fff">MT</text>
<text transform="translate(367.36,130.00) scale(1.060,1)" font-size="15.43" fill="#fff"><tspan font-weight="bold">-35.5%</tspan></text>
<text transform="translate(381.66,150.50) scale(1.041,1)" font-size="15.71" fill="#fff">ND</text>
<text transform="translate(368.86,192.00) scale(1.065,1)" font-size="15.43" fill="#fff"><tspan font-weight="bold">-45.6%</tspan></text>
<text transform="translate(384.83,212.00) scale(0.955,1)" font-size="15.36" fill="#fff">SD</text>
<text transform="translate(371.86,253.75) scale(1.055,1)" font-size="15.43" fill="#fff"><tspan font-weight="bold">-43.5%</tspan></text>
<text transform="translate(390.80,274.50) scale(0.953,1)" font-size="15.36" fill="#fff">NE</text>
<text transform="translate(533.96,278.75) scale(0.898,1)" font-size="15.43" fill="#fff"><tspan font-weight="bold">-42.3%</tspan></text>
<text transform="translate(554.95,295.50) scale(1.068,1)" font-size="13.21" fill="#fff">IL</text>
<text transform="translate(389.86,315.00) scale(1.060,1)" font-size="15.43" fill="#fff"><tspan font-weight="bold">-56.3%</tspan></text>
<text transform="translate(408.81,335.50) scale(0.923,1)" font-size="15.71" fill="#fff">KS</text>
<text transform="translate(494.45,318.00) scale(0.982,1)" font-size="14.36" fill="#fff"><tspan font-weight="bold">-54%</tspan></text>
<text transform="translate(499.31,338.75) scale(0.945,1)" font-size="15.36" fill="#fff">MO</text>
<text transform="translate(601.45,215.50) scale(0.976,1)" font-size="14.36" fill="#fff"><tspan font-weight="bold">-59.1%</tspan></text>
<text transform="translate(611.73,230.00) scale(1.141,1)" font-size="13.57" fill="#fff">MI</text>
<text transform="translate(706.95,240.50) scale(0.982,1)" font-size="14.36" fill="#fff"><tspan font-weight="bold">-50.5%</tspan></text>
<text transform="translate(725.27,255.00) scale(0.884,1)" font-size="13.57" fill="#fff">PA</text>
<text transform="translate(589.51,275.50) scale(0.870,1)" font-size="14.36" fill="#fff"><tspan font-weight="bold">-57.5%</tspan></text>
<text transform="translate(602.44,290.50) scale(1.076,1)" font-size="13.21" fill="#fff">IN</text>
<text transform="translate(633.20,264.50) scale(0.958,1)" font-size="14.71" fill="#fff"><tspan font-weight="bold">-55.3%</tspan></text>
<text transform="translate(648.09,280.50) scale(1.062,1)" font-size="13.21" fill="#fff">OH</text>
<text transform="translate(678.96,292.50) scale(0.898,1)" font-size="15.43" fill="#fff"><tspan font-weight="bold">-51.5%</tspan></text>
<text transform="translate(684.95,310.00) scale(0.874,1)" font-size="14.29" fill="#fff">WV</text>
<text transform="translate(717.45,307.00) scale(0.919,1)" font-size="15.43" fill="#fff"><tspan font-weight="bold">-51.1%</tspan></text>
<text transform="translate(731.20,325.00) scale(0.791,1)" font-size="14.29" fill="#fff">VA</text>
<text transform="translate(620.20,320.50) scale(0.914,1)" font-size="15.43" fill="#fff"><tspan font-weight="bold">-55.2%</tspan></text>
<text transform="translate(633.50,336.25) scale(0.854,1)" font-size="14.29" fill="#fff">KY</text>
<text transform="translate(716.96,350.50) scale(0.965,1)" font-size="14.36" fill="#fff"><tspan font-weight="bold">-59.1%</tspan></text>
<text transform="translate(726.95,363.75) scale(0.899,1)" font-size="14.29" fill="#fff">NC</text>
<text transform="translate(686.46,389.50) scale(0.990,1)" font-size="14.00" fill="#fff"><tspan font-weight="bold">-53.4%</tspan></text>
<text transform="translate(703.20,403.75) scale(0.844,1)" font-size="14.29" fill="#fff">SC</text>
<text transform="translate(699.29,515.50) scale(0.947,1)" font-size="14.36" fill="#fff"><tspan font-weight="bold">48.9%</tspan></text>
<text transform="translate(712.78,528.00) scale(0.899,1)" font-size="13.21" fill="#fff">FL</text>
<text transform="translate(747.45,189.40) scale(0.981,1)" font-size="14.29" fill="#000"><tspan font-weight="bold">-9.2%</tspan></text>
<text transform="translate(756.73,204.30) scale(0.989,1)" font-size="13.14" fill="#000">NY</text>
<text transform="translate(815.75,127.00) scale(1.033,1)" font-size="13.57" fill="#fff"><tspan font-weight="bold">-57.3%</tspan></text>
<text transform="translate(821.37,143.50) scale(0.850,1)" font-size="14.71" fill="#fff">ME</text>
<text transform="translate(175.16,381.70) scale(1.121,1)" font-size="14.57" fill="#fff"><tspan font-weight="bold">-63.3%</tspan></text>
<text transform="translate(188.27,401.90) scale(1.070,1)" font-size="14.57" fill="#fff">AZ</text>
<text transform="translate(102.65,527.50) scale(1.157,1)" font-size="14.29" fill="#fff"><tspan font-weight="bold">-45%</tspan></text>
<text transform="translate(111.97,549.20) scale(0.914,1)" font-size="15.57" fill="#fff">AK</text>
<text transform="translate(343.87,640.10) scale(1.003,1)" font-size="16.14" fill="#000"><tspan font-weight="bold">-4.8%</tspan></text>
<text transform="translate(355.86,661.00) scale(1.040,1)" font-size="15.71" fill="#000">HI</text>
<line x1="776.1" y1="128.6" x2="792.9" y2="147" stroke="#000" stroke-width="1.2"/>
<line x1="849.5" y1="157.3" x2="817.4" y2="173.3" stroke="#000" stroke-width="1.2"/>
<line x1="847.2" y1="182" x2="818.5" y2="189.8" stroke="#000" stroke-width="1.2"/>
<line x1="840.3" y1="207.2" x2="823.1" y2="203.1" stroke="#000" stroke-width="1.2"/>
<line x1="820.8" y1="227.2" x2="810.5" y2="207.7" stroke="#000" stroke-width="1.2"/>
<line x1="804.6" y1="259.1" x2="791.9" y2="246.9" stroke="#000" stroke-width="1.2"/>
<line x1="802.2" y1="284.4" x2="780.6" y2="275.9" stroke="#000" stroke-width="1.2"/>
<line x1="811.6" y1="309.7" x2="770.3" y2="279.7" stroke="#000" stroke-width="1.2"/>
<line x1="796.6" y1="328.4" x2="753.4" y2="270.3" stroke="#000" stroke-width="1.2"/>
<text transform="translate(725.64,127.00) scale(1.004,1)" font-size="13.00" fill="#000">VT (<tspan font-weight="bold">-59.7%</tspan>)</text>
<text transform="translate(852.50,160.00) scale(1.033,1)" font-size="13.00" fill="#000">NH (<tspan font-weight="bold">-62.9%</tspan>)</text>
<text transform="translate(850.69,188.20) scale(1.041,1)" font-size="13.00" fill="#000">MA (<tspan font-weight="bold">-46.3%</tspan>)</text>
<text transform="translate(843.33,213.40) scale(1.002,1)" font-size="13.00" fill="#000">RI (<tspan font-weight="bold">-54.6%</tspan>)</text>
<text transform="translate(820.83,238.60) scale(1.008,1)" font-size="13.00" fill="#000">CT (<tspan font-weight="bold">-41.7%</tspan>)</text>
<text transform="translate(806.31,264.30) scale(1.032,1)" font-size="12.86" fill="#000">NJ (<tspan font-weight="bold">-48.7%</tspan>)</text>
<text transform="translate(806.33,290.90) scale(1.036,1)" font-size="12.57" fill="#000">DE (<tspan font-weight="bold">-60.2%</tspan>)</text>
<text transform="translate(812.90,315.30) scale(1.003,1)" font-size="13.43" fill="#000">MD (<tspan font-weight="bold">-57.8%</tspan>)</text>
<text transform="translate(796.42,340.60) scale(0.982,1)" font-size="13.36" fill="#000">DC (<tspan font-weight="bold">28.3%</tspan>)</text>
<circle cx="751.6" cy="269.4" r="2.9" fill="#2f7fc1" stroke="#1a1a1a" stroke-width="0.8"/>
<text transform="translate(40.42,36.90) scale(1.033,1)" font-size="28.14" fill="#000">Cambio en el inventario de la vivienda: Febrero 2020 a febrero 2021</text>
<rect x="776.5" y="384.5" width="124.5" height="157.5" rx="8" ry="8" fill="#fff" stroke="#dcdcdc" stroke-width="1"/>
<circle cx="795" cy="399.25" r="5" fill="#570102" stroke="#333" stroke-width="0.6"/>
<text transform="translate(810.62,403.75) scale(1.000,1)" font-size="12.86" fill="#111">&lt; -60%</text>
<circle cx="795" cy="420.5" r="5" fill="#8c0507" stroke="#333" stroke-width="0.6"/>
<text transform="translate(810.69,425.00) scale(0.972,1)" font-size="12.86" fill="#111">-45% a -60%</text>
<circle cx="795" cy="442" r="5" fill="#ed1c24" stroke="#333" stroke-width="0.6"/>
<text transform="translate(810.69,446.50) scale(0.979,1)" font-size="12.86" fill="#111">-30% a -45%</text>
<circle cx="795" cy="463.75" r="5" fill="#f5a21e" stroke="#333" stroke-width="0.6"/>
<text transform="translate(811.44,468.25) scale(0.979,1)" font-size="12.86" fill="#111">-15% a -30%</text>
<circle cx="795" cy="487.5" r="5" fill="#bfe6f8" stroke="#333" stroke-width="0.6"/>
<text transform="translate(811.51,492.00) scale(0.969,1)" font-size="12.86" fill="#111">0% a -15%</text>
<circle cx="795" cy="510.75" r="5" fill="#1aa9e6" stroke="#333" stroke-width="0.6"/>
<text transform="translate(811.51,515.25) scale(0.971,1)" font-size="12.86" fill="#111">0% a 15%</text>
<circle cx="795" cy="533.75" r="5" fill="#1f6fb6" stroke="#333" stroke-width="0.6"/>
<text transform="translate(811.36,538.25) scale(1.008,1)" font-size="12.86" fill="#111">&gt; 15%</text>
<text transform="translate(582.24,638.75) scale(0.863,1)" font-size="33.93" fill="#8b0b0e"><tspan font-weight="bold">ESTADOS UNIDOS</tspan></text>
<text transform="translate(662.02,678.30) scale(1.062,1)" font-size="30.86" fill="#8b0b0e"><tspan font-weight="bold">-48.7%</tspan></text>
<text transform="translate(863.02,702.50) scale(1.094,1)" font-size="16.25" fill="#9a9a9a">realtor.com</text>
</svg>
</body></html>
